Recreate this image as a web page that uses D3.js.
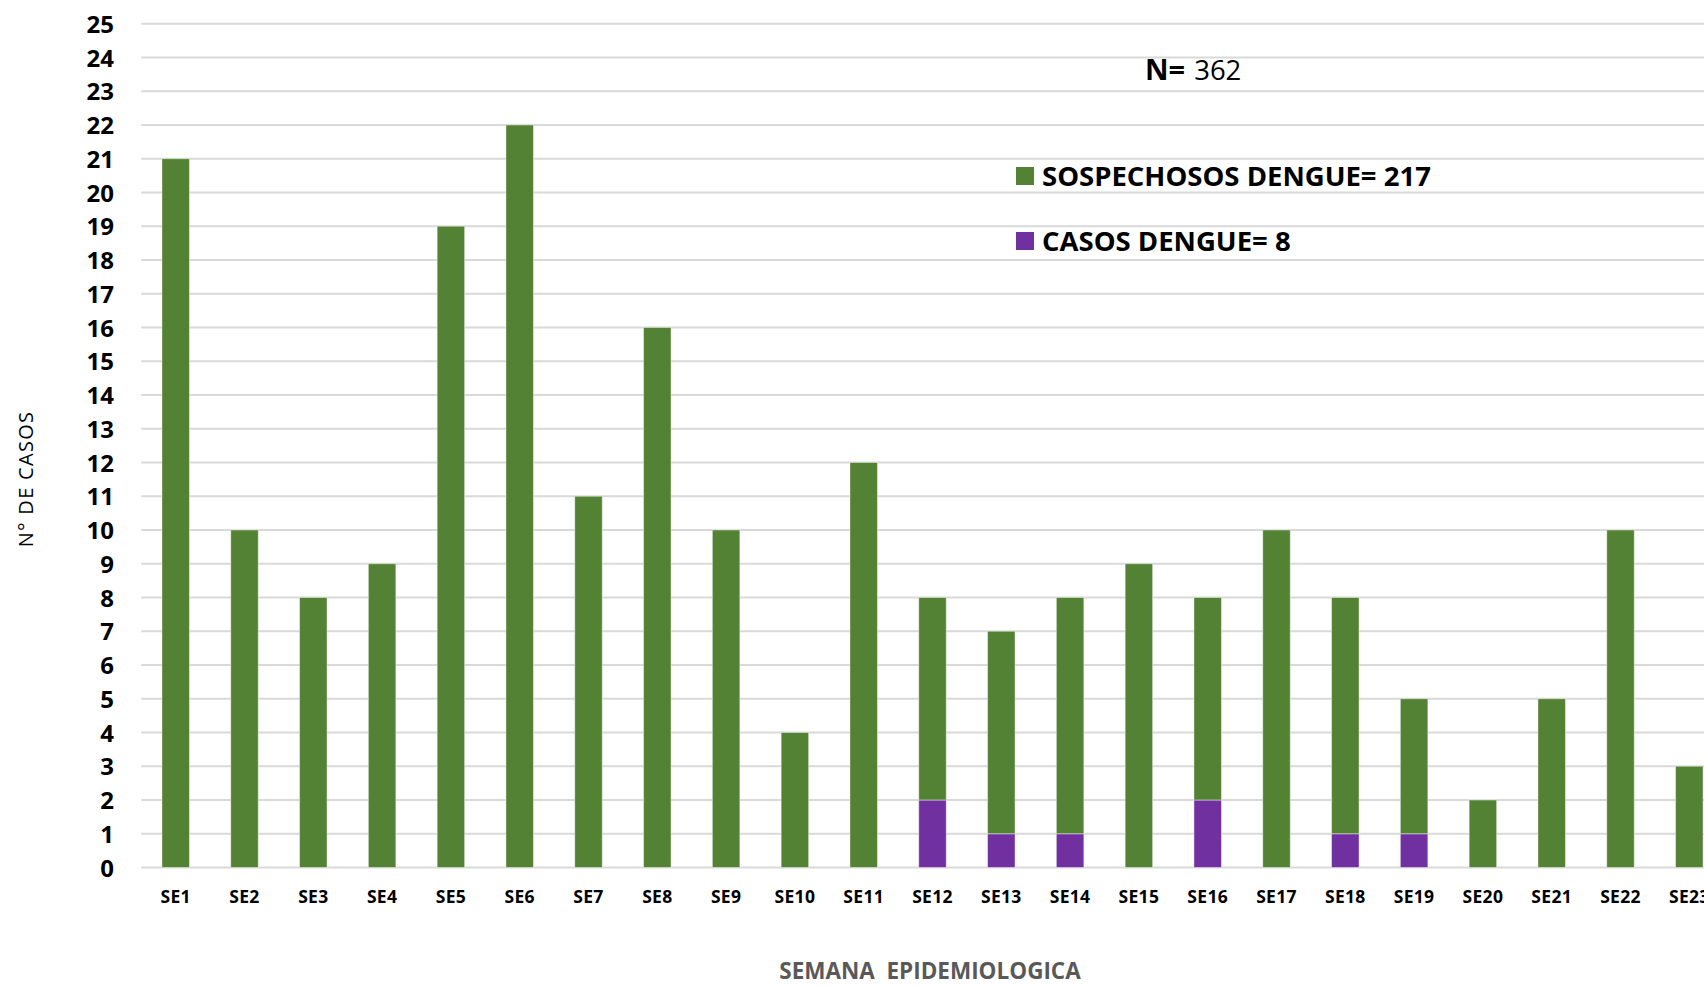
<!DOCTYPE html>
<html><head><meta charset="utf-8">
<script src="https://cdn.jsdelivr.net/npm/d3@7/dist/d3.min.js"></script>
<style>
html,body{margin:0;padding:0;background:#fff;overflow:hidden}
text{font-family:"Open Sans",sans-serif}
</style></head>
<body><svg id="c" width="1704" height="986"></svg>
<script>
const categories = ["SE1","SE2","SE3","SE4","SE5","SE6","SE7","SE8","SE9","SE10","SE11","SE12","SE13","SE14","SE15","SE16","SE17","SE18","SE19","SE20","SE21","SE22","SE23"];
const casosDengue = [0,0,0,0,0,0,0,0,0,0,0,2,1,1,0,2,0,1,1,0,0,0,0];
const sospechososDengue = [21,10,8,9,19,22,11,16,10,4,12,6,6,7,9,6,10,7,4,2,5,10,3];
const yTicks = d3.range(0,26);
const seriesNames = ["SOSPECHOSOS DENGUE= 217","CASOS DENGUE= 8"];
const nLabel = ["N=","362"];

const svg = d3.select("#c");
const left = 141.3, step = 68.8;
const x = d3.scaleBand().domain(categories).range([left, left + step*categories.length]).paddingInner(0.6).paddingOuter(0.3);
const y = d3.scaleLinear().domain([0,25]).range([867.5, 23.7]);

// gridlines
svg.append("g").selectAll("line").data(yTicks).join("line")
  .attr("x1", left).attr("x2", 1704)
  .attr("y1", d=>y(d)).attr("y2", d=>y(d))
  .attr("stroke","#d9d9d9").attr("stroke-width",2);

// y axis labels
const yAxis = d3.axisLeft(y).tickValues(yTicks).tickSize(0).tickPadding(0);
const gy = svg.append("g").attr("transform","translate(114,0)").call(yAxis);
gy.select(".domain").remove();
gy.selectAll("text").attr("font-family","'Open Sans',sans-serif").attr("font-size",24).attr("font-weight",700).attr("fill","#000").attr("dy","0.36em");

// stacked bars
const rows = categories.map((c,i)=>({cat:c, casos:casosDengue[i], sosp:sospechososDengue[i]}));
const stack = d3.stack().keys(["casos","sosp"])(rows);
const colors = {casos:"#7030a0", sosp:"#548235"};
svg.append("g").selectAll("g").data(stack).join("g")
  .attr("fill", d=>colors[d.key])
  .selectAll("rect").data(d=>d.filter(e=>e[1]-e[0]>0)).join("rect")
  .attr("x", d=>x(d.data.cat)).attr("width", x.bandwidth())
  .attr("y", d=>y(d[1])).attr("height", d=>y(d[0])-y(d[1]))
  .attr("stroke","rgba(255,255,255,0.45)").attr("stroke-width",1);

// x axis labels
const xAxis = d3.axisBottom(x).tickSize(0).tickPadding(0);
const gx = svg.append("g").attr("transform","translate(0,896.5)").call(xAxis);
gx.select(".domain").remove();
gx.selectAll("text").attr("font-family","'Open Sans',sans-serif").attr("font-size",17.5).attr("font-weight",700).attr("letter-spacing","0.3px").attr("fill","#000").attr("dy","0.36em");

// axis titles
svg.append("text").attr("transform","translate(33,479) rotate(-90)").attr("text-anchor","middle")
  .attr("font-size",20).attr("letter-spacing","1.3px").attr("fill","#000").text("N° DE CASOS");
svg.append("text").attr("x",930).attr("y",979).attr("text-anchor","middle")
  .attr("font-size",22.5).attr("font-weight",700).attr("fill","#595959").attr("xml:space","preserve").style("white-space","pre").text("SEMANA  EPIDEMIOLOGICA");

// N label
const nt = svg.append("text").attr("x",1145).attr("y",80);
nt.append("tspan").attr("font-size",29).attr("font-weight",700).text(nLabel[0]);
nt.append("tspan").attr("font-size",27.5).attr("dx",9).text(nLabel[1]);

// legend
const leg = svg.append("g").selectAll("g").data(seriesNames).join("g")
  .attr("transform",(d,i)=>`translate(1016,${167 + i*65})`);
leg.append("rect").attr("width",18).attr("height",18).attr("fill",(d,i)=>i===0?colors.sosp:colors.casos);
leg.append("text").attr("x",26).attr("y",18.5).attr("font-size",27.5).attr("font-weight",700).attr("fill","#000").text(d=>d);
</script></body></html>
